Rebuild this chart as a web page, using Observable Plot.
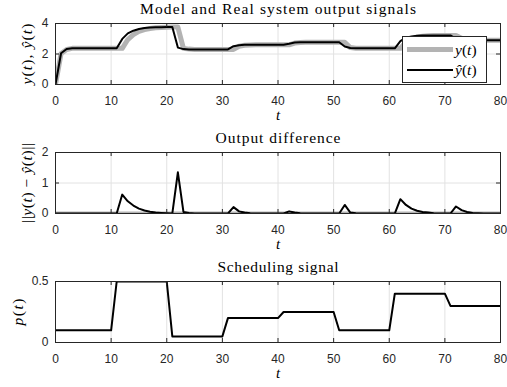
<!DOCTYPE html>
<html><head><meta charset="utf-8">
<script src="https://cdn.jsdelivr.net/npm/d3@7"></script>
<script src="https://cdn.jsdelivr.net/npm/@observablehq/plot@0.6"></script>
<style>
body{margin:0;background:#fff;}
#wrap{position:relative;width:507px;height:387px;overflow:hidden;}
#wrap > svg{display:block;}
#legend{position:absolute;left:402px;top:36px;}
</style></head><body><div id="wrap"></div>
<script>
// ---- data ----
const t = [0,1,2,3,4,5,6,7,8,9,10,11,12,13,14,15,16,17,18,19,20,21,22,23,24,25,26,27,28,29,30,31,32,33,34,35,36,37,38,39,40,41,42,43,44,45,46,47,48,49,50,51,52,53,54,55,56,57,58,59,60,61,62,63,64,65,66,67,68,69,70,71,72,73,74,75,76,77,78,79,80];
const yModel = [0,2.05,2.33,2.37,2.37,2.37,2.37,2.37,2.37,2.37,2.37,2.37,
  2.99,3.35,3.53,3.64,3.70,3.73,3.75,3.76,3.77,3.77,
  2.42,2.32,2.30,2.30,2.30,2.30,2.30,2.30,2.30,2.30,
  2.51,2.58,2.60,2.60,2.60,2.60,2.60,2.60,2.60,2.60,
  2.67,2.75,2.77,2.77,2.77,2.77,2.77,2.77,2.77,2.77,
  2.49,2.39,2.37,2.37,2.37,2.37,2.37,2.37,2.37,2.37,
  2.84,3.07,3.15,3.19,3.21,3.22,3.22,3.22,3.22,3.22,
  2.99,2.93,2.91,2.90,2.90,2.90,2.90,2.90,2.90];
const yReal = [0,2.03,2.30,2.37,2.37,2.37,2.37,2.37,2.37,2.37,2.37,2.37,2.37,
  2.95,3.27,3.48,3.60,3.67,3.72,3.74,3.76,3.77,3.77,
  2.37,2.32,2.30,2.30,2.30,2.30,2.30,2.30,2.30,2.30,
  2.51,2.57,2.59,2.60,2.60,2.60,2.60,2.60,2.60,2.60,
  2.72,2.76,2.77,2.77,2.77,2.77,2.77,2.77,2.77,2.77,
  2.42,2.38,2.37,2.37,2.37,2.37,2.37,2.37,2.37,2.37,
  2.79,2.99,3.10,3.16,3.19,3.21,3.22,3.22,3.22,3.22,
  3.04,2.96,2.92,2.91,2.90,2.90,2.90,2.90];
const diff = [0,0,0,0,0,0,0,0,0,0,0,0,
  0.62,0.40,0.26,0.16,0.10,0.06,0.03,0.02,0.01,0,
  1.35,0.05,0.02,0,0,0,0,0,0,0,
  0.21,0.07,0.03,0.01,0,0,0,0,0,0,
  0.07,0.03,0.01,0,0,0,0,0,0,0,
  0.28,0.03,0.01,0,0,0,0,0,0,0,
  0.47,0.28,0.16,0.09,0.05,0.03,0.01,0,0,0,
  0.23,0.11,0.05,0.02,0.01,0,0,0,0];
const p = [0.1,0.1,0.1,0.1,0.1,0.1,0.1,0.1,0.1,0.1,0.1,
  0.5,0.5,0.5,0.5,0.5,0.5,0.5,0.5,0.5,0.5,
  0.05,0.05,0.05,0.05,0.05,0.05,0.05,0.05,0.05,0.05,
  0.2,0.2,0.2,0.2,0.2,0.2,0.2,0.2,0.2,0.2,
  0.25,0.25,0.25,0.25,0.25,0.25,0.25,0.25,0.25,0.25,
  0.1,0.1,0.1,0.1,0.1,0.1,0.1,0.1,0.1,0.1,
  0.4,0.4,0.4,0.4,0.4,0.4,0.4,0.4,0.4,0.4,
  0.3,0.3,0.3,0.3,0.3,0.3,0.3,0.3,0.3,0.3];
const xTicks = [0,10,20,30,40,50,60,70,80];
const xGrid = [10,20,30,40,50,60,70];
const titles = ["Model and Real system output signals","Output difference","Scheduling signal"];
const yLabels = ["y(t), ŷ(t)","||y(t) − ŷ(t)||","p(t)"];
const xLabel = "t";
const legendLabels = ["y(t)","ŷ(t)"];

// ---- style ----
const W = 507, H = 129, ML = 55, MR = 7, MT = 23, MB = 45;
const AX = "#262626", GRID = "#e2e2e2", GRAY = "#b3b3b3";
const SERIF = "Liberation Serif";
const fw = W - ML - MR, fh = H - MT - MB;
const titleLen = [276, 125, 121];
const yLabelLen = [61, 80, 27];

function panel(o) {
  return Plot.plot({
    width: W, height: H, marginLeft: ML, marginRight: MR, marginTop: MT, marginBottom: MB,
    x: {domain: [0, 80]}, y: {domain: o.yDomain},
    style: {background: "white", fontFamily: "Liberation Sans", fontSize: "12px", color: AX, overflow: "visible"},
    marks: [
      Plot.ruleX(xGrid, {stroke: GRID, strokeWidth: 1}),
      o.yGrid ? Plot.ruleY(o.yGrid, {stroke: GRID, strokeWidth: 1}) : null,
      ...o.marks,
      Plot.frame({stroke: AX, strokeWidth: 1}),
      Plot.tickX(xTicks, {insetTop: fh - 4, stroke: AX}),
      Plot.tickX(xTicks, {insetBottom: fh - 4, stroke: AX}),
      Plot.tickY(o.yTicks, {insetRight: fw - 4, stroke: AX}),
      Plot.tickY(o.yTicks, {insetLeft: fw - 4, stroke: AX}),
      Plot.axisX(xTicks, {tickSize: 0, tickPadding: 12, label: null, tickFormat: d => String(d), fontSize: 12}),
      Plot.axisY(o.yTicks, {tickSize: 0, tickPadding: 7, label: null, tickFormat: d => String(d), fontSize: 12}),
      Plot.text([o.title], {frameAnchor: "top", textAnchor: "middle", lineAnchor: "middle", dy: -14.5, fontFamily: SERIF, fontSize: 15.5, fill: "black"}),
      Plot.text([xLabel], {frameAnchor: "bottom", textAnchor: "middle", lineAnchor: "middle", dy: 30.5, fontFamily: SERIF, fontSize: 15, fontStyle: "italic", fill: "black"}),
      Plot.text([o.ylabel], {frameAnchor: "left", textAnchor: "middle", lineAnchor: "middle", dx: -o.ylabelDx, rotate: -90, fontFamily: SERIF, fontSize: 15.5, fill: "black"})
    ]
  });
}

function fitText(svg, label, len) {
  svg.querySelectorAll("text").forEach(el => {
    if (el.textContent !== label) return;
    el.setAttribute("textLength", len);
    el.setAttribute("lengthAdjust", "spacing");
  });
}

function mathify(svg, label) {
  svg.querySelectorAll("text").forEach(el => {
    if (el.textContent !== label) return;
    const target = el.querySelector("tspan") || el;
    target.textContent = "";
    for (const ch of label) {
      const ts = document.createElementNS("http://www.w3.org/2000/svg", "tspan");
      ts.textContent = ch;
      ts.setAttribute("font-style", /[a-zA-Zŷ]/.test(ch) ? "italic" : "normal");
      target.appendChild(ts);
    }
  });
}

const wrap = document.getElementById("wrap");

const p1 = panel({
  yDomain: [0, 4], yTicks: [0, 2, 4], yGrid: [2], title: titles[0], ylabel: yLabels[0], ylabelDx: 28,
  marks: [
    Plot.line(t, {x: t, y: yReal, stroke: GRAY, strokeWidth: 5, clip: true}),
    Plot.line(t, {x: t, y: yModel, stroke: "black", strokeWidth: 2, clip: true})
  ]
});
const p2 = panel({
  yDomain: [0, 2], yTicks: [0, 1, 2], yGrid: [1], title: titles[1], ylabel: yLabels[1], ylabelDx: 28,
  marks: [
    Plot.ruleY([0], {stroke: GRAY, strokeWidth: 2, dy: -1}),
    Plot.line(t, {x: t, y: diff, stroke: "black", strokeWidth: 2, clip: true})
  ]
});
const p3 = panel({
  yDomain: [0, 0.5], yTicks: [0, 0.5], yGrid: null, title: titles[2], ylabel: yLabels[2], ylabelDx: 37,
  marks: [
    Plot.line(t, {x: t, y: p, stroke: "black", strokeWidth: 2, clip: true})
  ]
});
[p1, p2, p3].forEach((s, i) => {
  fitText(s, titles[i], titleLen[i]);
  fitText(s, yLabels[i], yLabelLen[i]);
  mathify(s, yLabels[i]);
  mathify(s, xLabel);
  wrap.appendChild(s);
});

// legend
const lg = d3.select(wrap).append("svg").attr("id", "legend").attr("width", 85).attr("height", 47);
lg.append("rect").attr("x", 0.5).attr("y", 0.5).attr("width", 84).attr("height", 46).attr("fill", "white").attr("stroke", AX);
lg.append("line").attr("x1", 5).attr("x2", 51).attr("y1", 13.5).attr("y2", 13.5).attr("stroke", GRAY).attr("stroke-width", 5);
lg.append("line").attr("x1", 5).attr("x2", 51).attr("y1", 34).attr("y2", 34).attr("stroke", "black").attr("stroke-width", 2);
[0, 1].forEach(i => {
  const tx = lg.append("text").attr("x", 53).attr("y", i ? 39 : 18.5).attr("font-family", SERIF).attr("font-size", 15.5);
  for (const ch of legendLabels[i]) {
    tx.append("tspan").text(ch).attr("font-style", /[a-zA-Zŷ]/.test(ch) ? "italic" : "normal");
  }
});
</script></body></html>
